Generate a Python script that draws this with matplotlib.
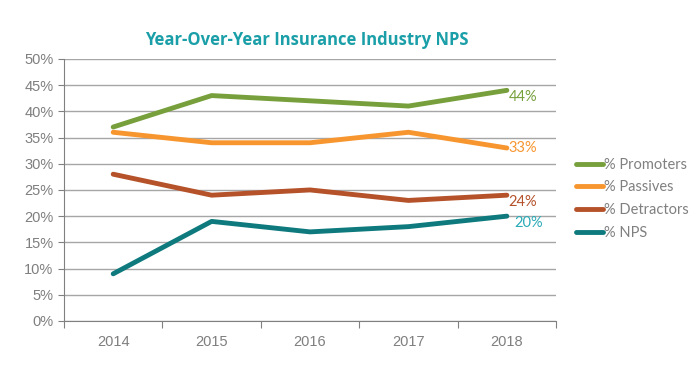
import matplotlib.pyplot as plt
from matplotlib.ticker import FixedLocator, PercentFormatter

# Data
years = ["2014", "2015", "2016", "2017", "2018"]
promoters = [37, 43, 42, 41, 44]
passives = [36, 34, 34, 36, 33]
detractors = [28, 24, 25, 23, 24]
nps = [9, 19, 17, 18, 20]

series = [
    ("% Promoters", promoters, "#77A03C", "#77A03C"),
    ("% Passives", passives, "#F7962F", "#F7962F"),
    ("% Detractors", detractors, "#B5522A", "#B5522A"),
    ("% NPS", nps, "#0E7A7D", "#2AABB7"),
]

fig = plt.figure(figsize=(6.97, 3.75), dpi=100)
ax = fig.add_axes([0.0918, 0.144, 0.706, 0.699])

x = range(len(years))
for name, vals, col, lab_col in series:
    ax.plot(x, vals, color=col, lw=3.5, solid_capstyle="round", label=name, zorder=3)

# end labels
ax.text(4.02, 44, "44%", color="#77A03C", fontsize=10.5, va="top", ha="left", family="Lato")
ax.text(4.02, 33, "33%", color="#F7962F", fontsize=10.5, va="center", ha="left", family="Lato")
ax.text(4.02, 24, "24%", color="#B5522A", fontsize=10.5, va="top", ha="left", family="Lato")
ax.text(4.08, 20, "20%", color="#2AABB7", fontsize=10.5, va="top", ha="left", family="Lato")

ax.set_xlim(-0.5, 4.5)
ax.set_ylim(0, 50)
ax.set_yticks(range(0, 51, 5))
ax.yaxis.set_major_formatter(PercentFormatter(decimals=0))
ax.grid(axis="y", color="#A6A6A6", lw=1)
ax.set_axisbelow(True)

ax.xaxis.set_major_locator(FixedLocator([-0.5, 0.5, 1.5, 2.5, 3.5, 4.5]))
ax.xaxis.set_minor_locator(FixedLocator(list(x)))
ax.set_xticklabels([])
ax.set_xticklabels(years, minor=True)
ax.tick_params(axis="x", which="major", length=5, color="#808080")
ax.tick_params(axis="x", which="minor", length=0, pad=10)
ax.tick_params(axis="y", length=4, color="#808080")
ax.tick_params(which="both", labelcolor="#7F7F7F", labelsize=10.5)
for lbl in ax.get_xticklabels(minor=True) + ax.get_yticklabels():
    lbl.set_family("Liberation Sans")

for side in ["top", "right"]:
    ax.spines[side].set_visible(False)
for side in ["left", "bottom"]:
    ax.spines[side].set_color("#808080")

fig.text(0.44, 0.88, "Year-Over-Year Insurance Industry NPS", color="#1A9FA8",
         fontsize=12, fontweight="bold", ha="center", family="Open Sans")

leg = fig.legend(loc="center left", bbox_to_anchor=(0.826, 0.47), frameon=False,
                 borderpad=0, borderaxespad=0,
                 handlelength=1.9, handletextpad=0.05, labelspacing=0.6,
                 prop={"family": "Lato", "size": 10.5})
for t in leg.get_texts():
    t.set_color("#808080")

fig.savefig("out.png", dpi=100)
